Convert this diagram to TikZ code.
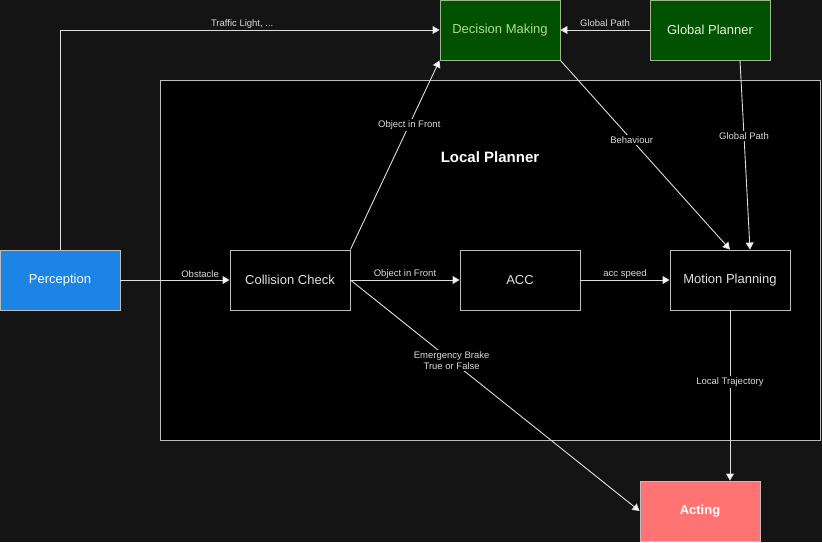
\documentclass[tikz,border=0pt]{standalone}
\usepackage{fontspec}
\setmainfont{Liberation Sans}
\usetikzlibrary{arrows.meta}

\definecolor{pagebg}{HTML}{141414}
\definecolor{wire}{HTML}{DDDDDD}
\definecolor{frame}{HTML}{BDBDBD}
\definecolor{dmfill}{HTML}{005200}
\definecolor{dmline}{HTML}{9DB88E}
\definecolor{dmtext}{HTML}{B0DC8C}
\definecolor{gptext}{HTML}{E4F5D8}
\definecolor{percfill}{HTML}{1C84E4}
\definecolor{actfill}{HTML}{FF7373}

\begin{document}
\begin{tikzpicture}[x=1pt, y=-1pt,
    block/.style={draw=frame, line width=0.9pt, minimum width=120pt, minimum height=60pt,
                  inner sep=0pt, font=\fontsize{13}{15}\selectfont, text=white!88!black},
    greenblock/.style={block, fill=dmfill, draw=dmline},
    wireto/.style={draw=wire, line width=0.9pt, -{Triangle[width=8pt,length=7pt,fill=white]}},
    tag/.style={font=\fontsize{9.5}{11}\selectfont, text=white!85!black, inner sep=1.5pt, align=center},
    tagin/.style={tag, fill=black},
    tagout/.style={tag, fill=pagebg}]
    % page and local planner frame
    \fill[pagebg] (0,0) rectangle (822,542);
    \useasboundingbox (0,0) rectangle (822,542);
    \filldraw[fill=black, draw=frame, line width=0.9pt] (160,80) rectangle (820,440);
    \node[font=\bfseries\fontsize{15}{17}\selectfont, text=white] (lptitle) at (490,157) {Local Planner};

    % blocks
    \node[greenblock, text=dmtext] (dm) at (500,30) {Decision Making};
    \node[greenblock, text=gptext] (gp) at (710,30) {Global Planner};
    \node[block, fill=percfill, draw=frame, text=white] (perc) at (60,280) {Perception};
    \node[block] (cc) at (290,280) {Collision Check};
    \node[block] (acc) at (520,280) {ACC};
    \node[block] (mp) at (730,280) {Motion Planning};
    \node[block, fill=actfill, draw=frame, text=white, font=\bfseries\fontsize{13}{15}\selectfont] (act) at (700,511) {Acting};

    % connectors
    \draw[wireto] (perc.north) |- node[tag, above, pos=0.74] {Traffic Light, ...} (dm.west);
    \draw[wireto] (gp.west) -- node[tagout, above=1pt] {Global Path} (dm.east);
    \draw[wireto] (perc.east) -- node[tag, above, pos=0.73] {Obstacle} (cc.west);
    \draw[wireto] (cc.north east) -- node[tagin, pos=0.66] {Object in Front} (dm.south west);
    \draw[wireto] (cc.east) -- node[tag, above] {Object in Front} (acc.west);
    \draw[wireto] (acc.east) -- node[tag, above] {acc speed} (mp.west);
    \draw[wireto] (dm.south east) -- node[tagin, pos=0.42] {Behaviour} (mp.north);
    \draw[wireto] ([xshift=30pt]gp.south) -- node[tagin, pos=0.4] {Global Path} ([xshift=20pt]mp.north);
    \draw[wireto] (cc.east) -- node[tagin, pos=0.35] {Emergency Brake\\True or False} (act.west);
    \draw[wireto] (mp.south) -- node[tagin, pos=0.42] {Local Trajectory} ([xshift=30pt]act.north);
\end{tikzpicture}
\end{document}
